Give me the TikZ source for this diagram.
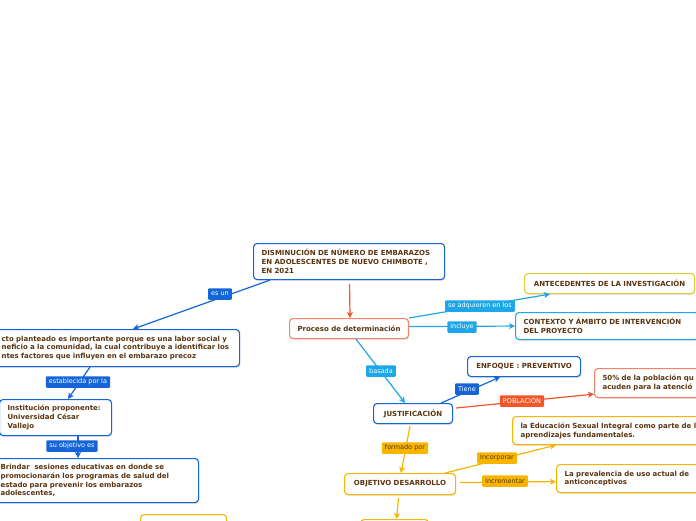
\documentclass[tikz,border=0pt]{standalone}
\usepackage{fontspec}
\setmainfont{DejaVu Sans}
\usetikzlibrary{arrows.meta,calc,shadows}
\definecolor{bdark}{HTML}{1565D8}
\definecolor{blight}{HTML}{1EA7E6}
\definecolor{ored}{HTML}{F0562A}
\definecolor{salmon}{HTML}{F2846A}
\definecolor{gold}{HTML}{F7B500}
\definecolor{ylw}{HTML}{E6CC35}
\definecolor{brn}{HTML}{5A3410}
\tikzset{
  box/.style={draw=#1, line width=1.1pt, rounded corners=3.5pt, fill=white, anchor=north west,
    inner ysep=0pt, inner xsep=8pt, text=brn, align=left,
    font=\bfseries\fontsize{7}{8.8}\selectfont,
    drop shadow={shadow xshift=0.6pt, shadow yshift=-1.2pt, opacity=0.22}},
  cbox/.style={box=#1, align=center},
  lab/.style={fill=#1, text=white, font=\fontsize{6.5}{7}\selectfont, inner xsep=3pt, inner ysep=1pt,
    minimum height=11.5pt, rounded corners=1pt},
  olab/.style={lab=gold, text=brn},
  con/.style={draw=#1, line width=1.2pt},
  arr/.style={con=#1, -{Stealth[length=6pt,width=6pt,inset=1.5pt]}},
}
\begin{document}
\begin{tikzpicture}[x=1pt,y=-1pt]
\useasboundingbox (0,0) rectangle (696,520);
\clip (0,0) rectangle (696,520);
% nodes
\node[box=bdark, minimum width=191pt, minimum height=36pt, text width=175pt] (t) at (253,243)
  {\mbox{DISMINUCIÓN DE NÚMERO DE EMBARAZOS}\\\mbox{EN ADOLESCENTES DE NUEVO CHIMBOTE ,}\\EN 2021};
\node[box=bdark, minimum width=246pt, minimum height=37pt, text width=230pt] (l1) at (-7,329)
  {\mbox{cto planteado es importante porque es una labor social y}\\\mbox{neficio a la comunidad, la cual contribuye a identificar los}\\\mbox{ntes factores que influyen en el embarazo precoz}};
\node[box=bdark, minimum width=112pt, minimum height=36pt, text width=96pt] (inst) at (-1,399)
  {\mbox{Institución proponente:}\\\mbox{Universidad César}\\Vallejo};
\node[box=bdark, minimum width=206pt, minimum height=44pt, text width=190pt] (br) at (-8,458)
  {\mbox{Brindar\ \ sesiones educativas en donde se}\\\mbox{promocionarán los programas de salud del}\\\mbox{estado para prevenir los embarazos}\\adolescentes,};
\node[box=gold, minimum width=86pt, minimum height=20pt] (bl) at (140,514) {};
\node[cbox=salmon, minimum width=118pt, minimum height=20pt] (p) at (289,318) {Proceso de determinación};
\node[cbox=ylw, minimum width=170pt, minimum height=20pt] (ante) at (524,273) {ANTECEDENTES DE LA INVESTIGACIÓN};
\node[box=blight, minimum width=183pt, minimum height=27pt, text width=167pt] (ctx) at (515,312)
  {\mbox{CONTEXTO Y ÁMBITO DE INTERVENCIÓN}\\DEL PROYECTO};
\node[cbox=bdark, minimum width=113pt, minimum height=20pt] (en) at (467,356) {ENFOQUE : PREVENTIVO};
\node[cbox=bdark, minimum width=79pt, minimum height=20pt] (j) at (373,403) {JUSTIFICACIÓN};
\node[box=salmon, minimum width=130pt, minimum height=29pt, text width=114pt] (pop) at (594,368)
  {\mbox{50\% de la población qu}\\\mbox{acuden para la atenció}};
\node[box=gold, minimum width=220pt, minimum height=28pt, text width=204pt] (edu) at (512,416)
  {\mbox{la Educación Sexual Integral como parte de l}\\\mbox{aprendizajes fundamentales.}};
\node[cbox=gold, minimum width=111pt, minimum height=21pt] (obj) at (344,473) {OBJETIVO DESARROLLO};
\node[box=gold, minimum width=200pt, minimum height=28pt, text width=184pt] (prev) at (556,464)
  {\mbox{La prevalencia de uso actual de}\\anticonceptivos};
\node[box=gold, minimum width=68pt, minimum height=20pt] (bm) at (360,519) {};
% connectors
\draw[arr=bdark] ($(t.south west)+(17,0)$) -- ($(l1.north west)+(140,0)$);
\draw[arr=ored] ($(t.south)+(0.5,4)$) -- ($(p.north)+(1,0)$);
\draw[arr=bdark] ($(l1.south west)+(97,0)$) -- ($(inst.north west)+(69,0)$);
\draw[arr=bdark] ($(inst.south west)+(79,0)$) -- ($(br.north west)+(86,0)$);
\draw[arr=blight] (p.north east) -- ($(ante.south west)+(26,0)$);
\draw[arr=blight] ($(p.east)+(0,-2)$) -- (ctx.west);
\draw[arr=blight] ($(p.south west)+(67,0)$) -- ($(j.north west)+(32,0)$);
\draw[arr=bdark] ($(j.north east)+(-12,0)$) -- ($(en.south west)+(33,0)$);
\draw[arr=ored] ($(j.north east)+(3,5)$) -- ($(pop.south west)+(0,-4)$);
\draw[arr=gold] ($(j.south west)+(37,2)$) -- ($(obj.north west)+(57,0)$);
\draw[arr=gold] ($(obj.north east)+(-11,0)$) -- ($(edu.south west)+(44,0)$);
\draw[arr=gold] ($(obj.east)+(4,-1.5)$) -- ($(prev.west)+(0,3)$);
\draw[arr=gold] ($(obj.south)+(-1.5,3)$) -- ($(bm.north)+(2,0)$);
% labels
\node[lab=bdark] (lesun) at (220,294) {es un};
\node[lab=bdark] (lest) at (78,382) {establecida por la};
\node[lab=bdark] (lobj) at (72,446) {su objetivo es};
\node[lab=blight] (lsead) at (480,306) {se adquieren en los};
\node[lab=blight] (linc) at (462,327) {incluye};
\node[lab=blight] (lbas) at (381,371) {basada};
\node[lab=bdark] (ltie) at (467,389) {Tiene};
\node[lab=ored] (lpob) at (522,401) {POBLACIÓN};
\node[olab] (lfor) at (405,448) {formado por};
\node[olab] (lincor) at (497,458) {Incorporar};
\node[olab] (lincr) at (505,481) {Incrementar};
\end{tikzpicture}
\end{document}
